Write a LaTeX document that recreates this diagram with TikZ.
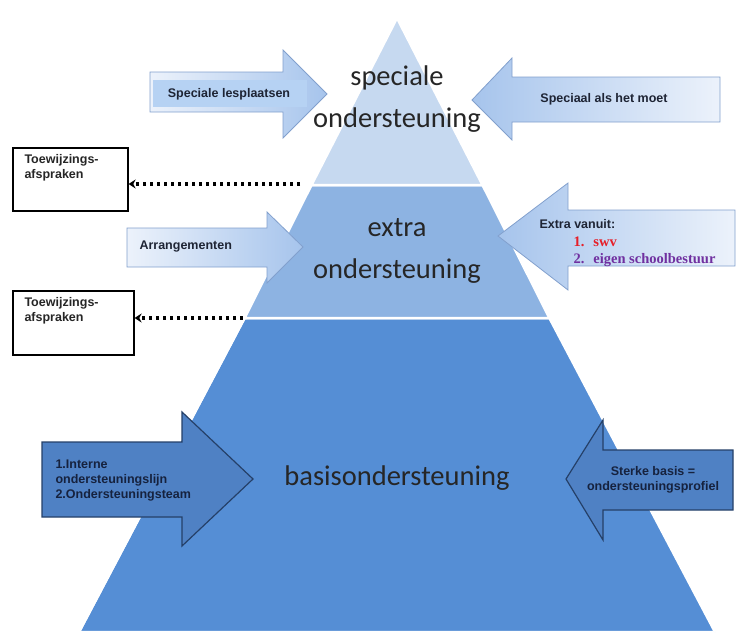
\documentclass[tikz,border=0pt]{standalone}
\usepackage{fontspec}
\setmainfont{Liberation Sans}
\newfontfamily\calib{Carlito}
\newfontfamily\serifb{Liberation Serif}
\usetikzlibrary{arrows.meta}
\definecolor{lvlA}{RGB}{198,217,240}
\definecolor{lvlB}{RGB}{141,179,226}
\definecolor{lvlC}{RGB}{85,142,213}
\definecolor{arrDark}{RGB}{79,129,196}
\definecolor{arrLine}{RGB}{37,64,104}
\definecolor{arrLightL}{RGB}{236,242,251}
\definecolor{arrLightD}{RGB}{166,196,236}
\definecolor{arrEdge}{RGB}{130,160,205}
\definecolor{txtDark}{RGB}{30,36,52}
\definecolor{txtNavy}{RGB}{22,34,62}
\definecolor{bandC}{RGB}{182,210,243}
\definecolor{swvred}{RGB}{230,30,40}
\definecolor{swvpurple}{RGB}{112,48,160}
\tikzset{
  level/.style={draw=white,line width=2.5pt,line join=round},
  lightarrowR/.style={left color=arrLightL,right color=arrLightD,draw=arrEdge,line width=0.8pt},
  lightarrowL/.style={left color=arrLightD,right color=arrLightL,draw=arrEdge,line width=0.8pt},
  darkarrow/.style={fill=arrDark,draw=arrLine,line width=1.2pt},
  pyrtext/.style={font=\calib\fontsize{28.5}{42}\selectfont,text=black!85,align=center},
  smalltext/.style={font=\bfseries\fontsize{12.5}{15}\selectfont,text=txtDark},
  serifitem/.style={anchor=west,font=\serifb\bfseries\fontsize{14.5}{16}\selectfont},
  boxstyle/.style={draw=black,line width=1.6pt,fill=white},
  dotline/.style={line width=3.2pt,dash pattern=on 3.5pt off 3.5pt,-{Stealth[length=7pt,width=9pt]}}
}
\begin{document}
\begin{tikzpicture}[x=1pt,y=-1pt]
\useasboundingbox (0,0) rectangle (739,632);
% pyramid levels
\fill[level,fill=lvlC] (244.6,318) -- (549.4,318) -- (715,632) -- (79,632) -- cycle;
\draw[level,fill=lvlC] (244.6,318) -- (549.4,318) -- (715,632);
\draw[level] (79,632) -- (244.6,318);
\draw[level,fill=lvlB] (311.5,185) -- (482.5,185) -- (549.4,318) -- (244.6,318) -- cycle;
\draw[level,fill=lvlA] (397,18) -- (482.5,185) -- (311.5,185) -- cycle;
% pyramid texts
\node[pyrtext] (tA) at (397,99) {speciale\\ondersteuning};
\node[pyrtext] (tB) at (397,251) {extra\\ondersteuning};
\node[pyrtext] (tC) at (397,478) {basisondersteuning};
% arrow 1: Speciale lesplaatsen
\path[lightarrowR] (150,72) -- (283,72) -- (283,50) -- (327,94) -- (283,138) -- (283,112) -- (150,112) -- cycle;
\fill[bandC] (153,80) rectangle (307,107);
\node[smalltext] (a1) at (229,94) {Speciale lesplaatsen};
% arrow 2: Speciaal als het moet
\path[lightarrowL] (472,100) -- (512,58) -- (512,77) -- (720,77) -- (720,122) -- (512,122) -- (512,140) -- cycle;
\node[smalltext] (a2) at (604,99) {Speciaal als het moet};
% arrow 3: Arrangementen
\path[lightarrowR] (127,228) -- (267,228) -- (267,212) -- (303,247) -- (267,283) -- (267,267) -- (127,267) -- cycle;
\node[smalltext,anchor=west] (a3) at (136,247) {Arrangementen};
% arrow 4: Extra vanuit
\path[lightarrowL] (498,236) -- (568,183) -- (568,210) -- (735,210) -- (735,266) -- (568,266) -- (568,290) -- cycle;
\node[smalltext,anchor=west] (a4) at (536,224) {Extra vanuit:};
\node[serifitem,text=swvred] (a4a) at (570,242) {1.\hspace{9pt}swv};
\node[serifitem,text=swvpurple] (a4b) at (570,260) {2.\hspace{9pt}eigen schoolbestuur};
% arrow 5: Interne
\path[darkarrow] (42,442) -- (182,442) -- (182,412) -- (253,479) -- (182,546) -- (182,517) -- (42,517) -- cycle;
\node[smalltext,text=txtNavy,anchor=west,align=left] (a5) at (52,481) {1.Interne\\ondersteuningslijn\\2.Ondersteuningsteam};
% arrow 6: Sterke basis
\path[darkarrow] (566,479) -- (603,420) -- (603,450) -- (733,450) -- (733,510) -- (603,510) -- (603,540) -- cycle;
\node[smalltext,text=txtNavy,align=center] (a6) at (653,480) {Sterke basis =\\ondersteuningsprofiel};
% boxes
\node[boxstyle,minimum width=115pt,minimum height=63pt,anchor=north west] (b1) at (12,147) {};
\node[smalltext,anchor=north west,align=left,text=black!85] (b1t) at (21,151) {Toewijzings-\\afspraken};
\node[boxstyle,minimum width=121pt,minimum height=64pt,anchor=north west] (b2) at (12,290) {};
\node[smalltext,anchor=north west,align=left,text=black!85] (b2t) at (21,294) {Toewijzings-\\afspraken};
% dotted connectors
\coordinate (d1) at (300,184);
\coordinate (d2) at (243,318);
\draw[dotline] (d1) -- (d1 -| b1.east);
\draw[dotline] (d2) -- (d2 -| b2.east);
\end{tikzpicture}
\end{document}
